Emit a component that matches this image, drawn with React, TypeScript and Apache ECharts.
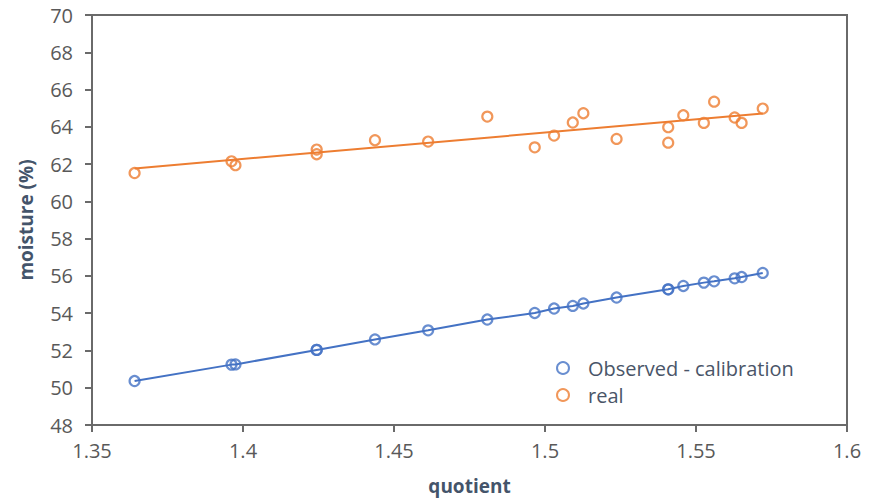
import React, { useEffect, useRef } from "react";
import * as echarts from "echarts";

// quotient values shared by both series (duplicates are repeated measurements)
const quotient = [
  1.3641, 1.3962, 1.3975, 1.4244, 1.4244, 1.4437, 1.4613, 1.4809, 1.4966, 1.503,
  1.5092, 1.5127, 1.5237, 1.5408, 1.5408, 1.5458, 1.5526, 1.556, 1.5628, 1.5651, 1.5721,
];

// moisture (%) from the calibration model
const observedCalibration = [
  50.36, 51.24, 51.25, 52.03, 52.03, 52.59, 53.08, 53.66, 54.01, 54.25,
  54.39, 54.52, 54.84, 55.28, 55.28, 55.46, 55.64, 55.71, 55.87, 55.94, 56.16,
];

// measured moisture (%)
const realMoisture = [
  61.52, 62.15, 61.94, 62.78, 62.53, 63.28, 63.21, 64.55, 62.9, 63.53,
  64.23, 64.73, 63.35, 63.98, 63.15, 64.62, 64.21, 65.35, 64.5, 64.21, 64.98,
];

const xTicks = { min: 1.35, max: 1.6, interval: 0.05 };
const yTicks = { min: 48, max: 70, interval: 2 };

const BLUE = "#4472C4";
const ORANGE = "#ED7D31";
const AXIS = "#6a6a6a";
const LABEL = "#595959";
const TITLE = "#44546A";
const FONT = "'Open Sans', 'Noto Sans', sans-serif";

function pairs(xs: number[], ys: number[]): number[][] {
  return xs.map((x, i) => [x, ys[i]]);
}

// least-squares linear trendline over the range of xs
function trendline(xs: number[], ys: number[]): number[][] {
  const n = xs.length;
  const mx = xs.reduce((a, b) => a + b, 0) / n;
  const my = ys.reduce((a, b) => a + b, 0) / n;
  let sxy = 0;
  let sxx = 0;
  for (let i = 0; i < n; i++) {
    sxy += (xs[i] - mx) * (ys[i] - my);
    sxx += (xs[i] - mx) * (xs[i] - mx);
  }
  const slope = sxy / sxx;
  const x0 = Math.min(...xs);
  const x1 = Math.max(...xs);
  return [
    [x0, my + slope * (x0 - mx)],
    [x1, my + slope * (x1 - mx)],
  ];
}

export default function App() {
  const ref = useRef<HTMLDivElement>(null);

  useEffect(() => {
    if (!ref.current) return;
    const chart = echarts.init(ref.current, null, { renderer: "svg" });

    const bluePts = pairs(quotient, observedCalibration).sort((a, b) => a[0] - b[0]);
    const orangePts = pairs(quotient, realMoisture);

    chart.setOption({
      animation: false,
      backgroundColor: "#ffffff",
      grid: {
        left: 92,
        right: 28,
        top: 15,
        bottom: 73,
        outerBoundsMode: "none",
        containLabel: false,
        show: true,
        borderColor: AXIS,
        borderWidth: 2,
      },
      legend: {
        orient: "vertical",
        left: 551,
        top: 353,
        itemWidth: 12,
        itemHeight: 12,
        itemGap: 7,
        textStyle: {
          color: "#4a5568",
          fontSize: 20,
          fontFamily: FONT,
          padding: [0, 0, 0, 14],
        },
        data: [
          { name: "Observed - calibration", icon: "circle" },
          { name: "real", icon: "circle" },
        ],
      },
      xAxis: {
        type: "value",
        min: xTicks.min,
        max: xTicks.max,
        interval: xTicks.interval,
        name: "quotient",
        nameLocation: "middle",
        nameGap: 51,
        nameTextStyle: { color: TITLE, fontSize: 19, fontWeight: "bold", fontFamily: FONT },
        axisLine: { show: true, lineStyle: { color: AXIS, width: 2 } },
        axisTick: { show: true, length: 7, lineStyle: { color: AXIS, width: 2 } },
        axisLabel: {
          color: LABEL,
          fontSize: 20,
          fontFamily: FONT,
          margin: 15,
          formatter: (v: number) => String(parseFloat(v.toFixed(2))),
        },
        splitLine: { show: false },
      },
      yAxis: {
        type: "value",
        min: yTicks.min,
        max: yTicks.max,
        interval: yTicks.interval,
        name: "moisture (%)",
        nameLocation: "middle",
        nameGap: 57,
        nameTextStyle: { color: TITLE, fontSize: 19, fontWeight: "bold", fontFamily: FONT },
        axisLine: { show: true, lineStyle: { color: AXIS, width: 2 } },
        axisTick: { show: true, length: 7, lineStyle: { color: AXIS, width: 2 } },
        axisLabel: { color: LABEL, fontSize: 20, fontFamily: FONT, margin: 19 },
        splitLine: { show: false },
      },
      series: [
        {
          name: "calibration line",
          type: "line",
          data: bluePts,
          showSymbol: false,
          symbol: "none",
          lineStyle: { color: BLUE, width: 2 },
          silent: true,
          z: 2,
        },
        {
          name: "real trend",
          type: "line",
          data: trendline(quotient, realMoisture),
          showSymbol: false,
          symbol: "none",
          lineStyle: { color: ORANGE, width: 2 },
          silent: true,
          z: 2,
        },
        {
          name: "Observed - calibration",
          type: "scatter",
          data: bluePts,
          symbol: "circle",
          symbolSize: 10,
          itemStyle: { color: "rgba(255,255,255,0)", borderColor: BLUE, borderWidth: 2.2 },
          z: 3,
        },
        {
          name: "real",
          type: "scatter",
          data: orangePts,
          symbol: "circle",
          symbolSize: 10,
          itemStyle: { color: "rgba(255,255,255,0)", borderColor: ORANGE, borderWidth: 2.2 },
          z: 3,
        },
      ],
    });

    return () => chart.dispose();
  }, []);

  return <div ref={ref} style={{ width: 875, height: 498, position: "absolute", left: 0, top: 0 }} />;
}
